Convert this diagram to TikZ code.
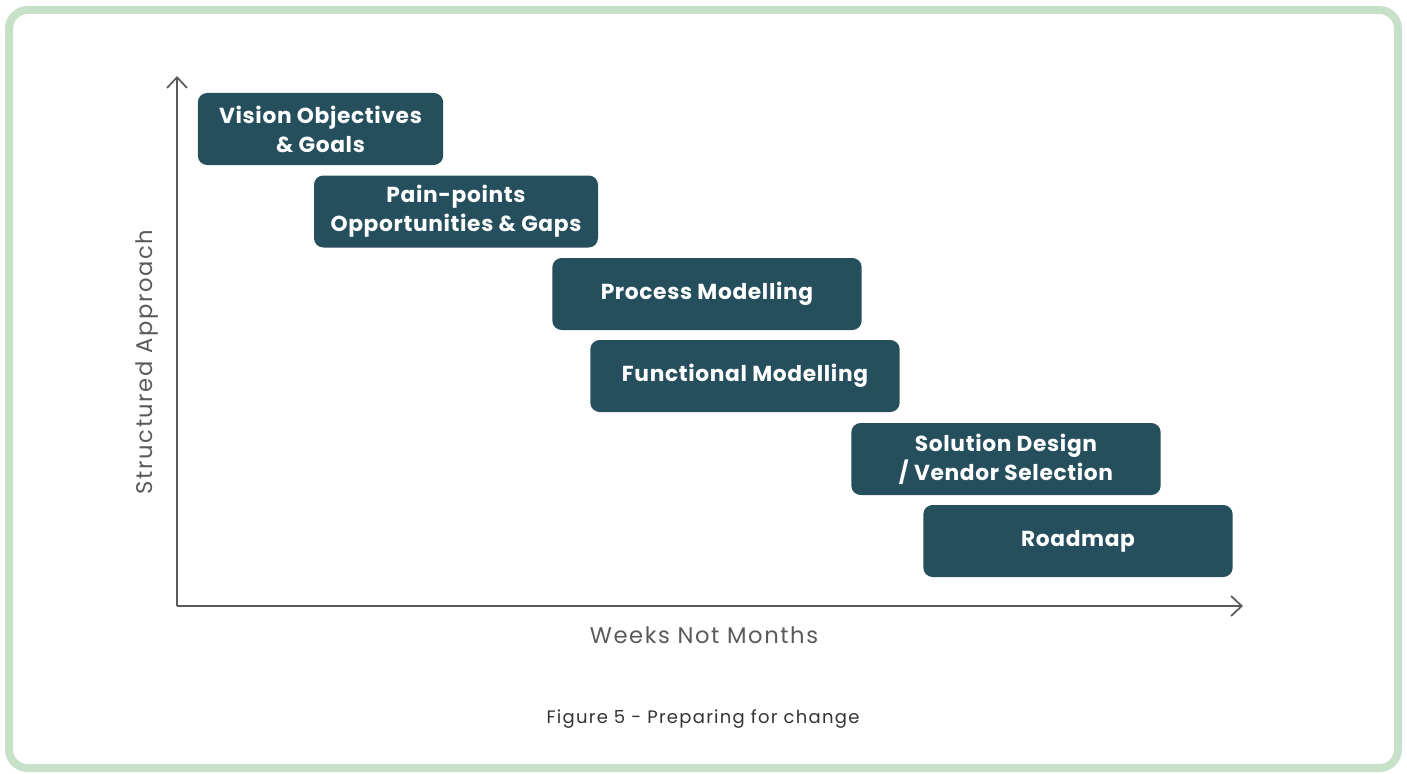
\documentclass[tikz,border=0pt]{standalone}
\usepackage{fontspec}
\setmainfont{Poppins}
\usetikzlibrary{arrows.meta}

\definecolor{phase}{HTML}{264F5E}
\definecolor{frame}{HTML}{C6E1C8}
\definecolor{axisgray}{HTML}{5A5A5A}

\begin{document}
\begin{tikzpicture}[x=0.75pt, y=-0.75pt,
		phase/.style={fill=phase, rounded corners=7pt, minimum height=54pt, text=white, align=center,
			font=\fontsize{16.3}{21.7}\selectfont\bfseries\addfontfeature{LetterSpace=3}},
		axis/.style={draw=axisgray, line width=1.5pt, -{Straight Barb[length=8pt,width=15pt,line width=1.3pt]}},
		label/.style={text=axisgray, font=\fontsize{17}{22}\selectfont\addfontfeature{LetterSpace=7}}]

		\useasboundingbox (0,0) rectangle (1407,774);
		\draw[frame, line width=6pt, rounded corners=14pt] (9,10) rectangle (1398,768);

		% axes
		\coordinate (origin) at (177,606);
		\coordinate (ytop) at (177,76);
		\coordinate (xend) at (1243,606);
		\draw[axis] (origin) -- (ytop);
		\draw[axis] (origin) -- (xend);

		\node[label, rotate=90] (ylab) at (147,362) {Structured Approach};
		\node[label] (xlab) at (704,635) {Weeks Not Months};

		% phases
		\node[phase, minimum width=184pt] (vision) at (320.5,129) {Vision Objectives\\ \& Goals};
		\node[phase, minimum width=213pt] (pain) at (456,211.5) {Pain-points\\ Opportunities \& Gaps};
		\node[phase, minimum width=232pt] (process) at (707,294) {Process Modelling};
		\node[phase, minimum width=232pt] (func) at (745,376) {Functional Modelling};
		\node[phase, minimum width=232pt] (solution) at (1006,459) {Solution Design\\ / Vendor Selection};
		\node[phase, minimum width=232pt] (roadmap) at (1078,541) {Roadmap};

		\node[text=black!80, font=\fontsize{13.5}{17}\selectfont\addfontfeature{LetterSpace=7}] (caption) at (703,719) {Figure 5 - Preparing for change};

	\end{tikzpicture}
\end{document}
